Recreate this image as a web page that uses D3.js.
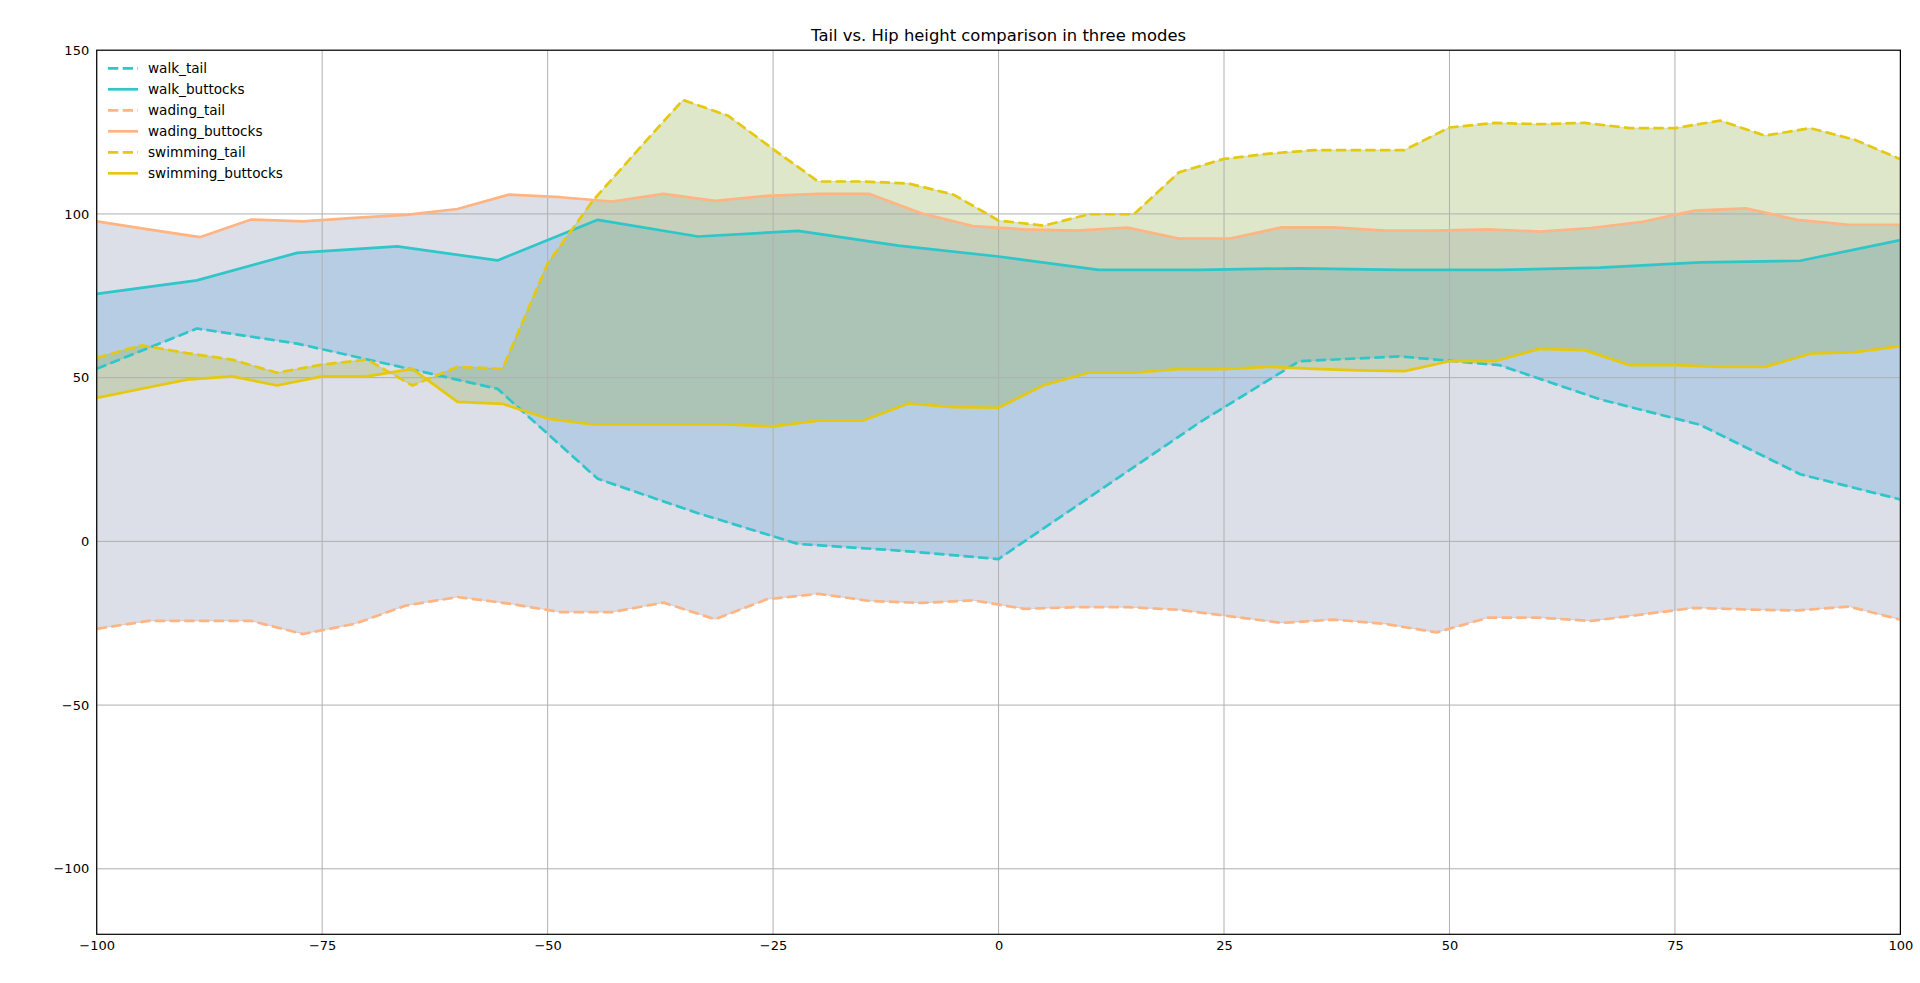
<!DOCTYPE html>
<html>
<head>
<meta charset="utf-8">
<script src="https://cdn.jsdelivr.net/npm/d3@7"></script>
<style>
  html, body { margin: 0; padding: 0; background: #ffffff; }
  svg { display: block; font-family: "DejaVu Sans", sans-serif; }
</style>
</head>
<body>
<svg id="chart" width="1920" height="983"></svg>
<script>
// ---------------- data ----------------
const title = "Tail vs. Hip height comparison in three modes";

const walkX = [-100, -88.89, -77.78, -66.67, -55.56, -44.44, -33.33, -22.22, -11.11, 0,
  11.11, 22.22, 33.33, 44.44, 55.56, 66.67, 77.78, 88.89, 100];
const walkTail = [52.7, 65.0, 60.4, 53.5, 46.6, 19.1, 8.6, -0.8, -2.8, -5.4,
  15.4, 36.2, 55.0, 56.5, 53.8, 43.4, 35.6, 20.5, 12.8];
const walkButtocks = [75.6, 79.7, 88.1, 90.1, 85.8, 98.2, 93.1, 94.8, 90.3, 87.0,
  82.9, 82.9, 83.4, 82.9, 82.9, 83.6, 85.2, 85.7, 92.0];

const wadingX = [-100, -94.29, -88.57, -82.86, -77.14, -71.43, -65.71, -60, -54.29, -48.57,
  -42.86, -37.14, -31.43, -25.71, -20, -14.29, -8.57, -2.86, 2.86, 8.57,
  14.29, 20, 25.71, 31.43, 37.14, 42.86, 48.57, 54.29, 60, 65.71,
  71.43, 77.14, 82.86, 88.57, 94.29, 100];
const wadingTail = [-26.7, -24.3, -24.3, -24.3, -28.3, -25.2, -19.6, -17.0, -19.0, -21.6,
  -21.6, -18.7, -23.8, -17.7, -16.0, -18.2, -18.8, -18.0, -20.6, -20.1,
  -20.1, -20.9, -22.9, -24.9, -23.9, -25.2, -27.8, -23.3, -23.3, -24.3,
  -22.3, -20.3, -20.8, -21.1, -19.9, -23.9];
const wadingButtocks = [97.7, 95.3, 92.9, 98.3, 97.7, 98.8, 99.7, 101.5, 105.9, 105.1,
  103.8, 106.1, 104.0, 105.5, 106.1, 106.1, 100.2, 96.3, 95.3, 94.9,
  95.8, 92.5, 92.5, 95.9, 95.9, 94.9, 94.9, 95.3, 94.6, 95.7,
  97.6, 101.0, 101.7, 98.2, 96.7, 96.7];

const swimX = [-100, -95, -90, -85, -80, -75, -70, -65, -60, -55, -50, -45, -40, -35, -30,
  -25, -20, -15, -10, -5, 0, 5, 10, 15, 20, 25, 30, 35, 40, 45,
  50, 55, 60, 65, 70, 75, 80, 85, 90, 95, 100];
const swimTail = [56.1, 59.9, 57.5, 55.5, 51.5, 54.0, 55.5, 47.6, 53.3, 52.7, 84.9, 104.0, 119.5, 134.8, 130.0,
  119.8, 109.9, 109.9, 109.3, 105.9, 98.0, 96.4, 99.9, 99.9, 112.7, 116.8, 118.4, 119.5, 119.5, 119.5,
  126.4, 127.8, 127.4, 127.8, 126.2, 126.2, 128.5, 123.9, 126.2, 122.6, 116.7];
const swimButtocks = [43.8, 46.6, 49.4, 50.4, 47.6, 50.4, 50.4, 52.7, 42.6, 42.0, 37.5, 35.7, 35.7, 35.7, 35.7,
  35.1, 36.9, 36.9, 42.1, 41.0, 40.8, 47.7, 51.5, 51.5, 52.6, 52.6, 53.3, 52.7, 52.2, 52.0,
  55.0, 55.0, 58.8, 58.4, 53.8, 53.8, 53.3, 53.3, 57.3, 57.8, 59.6];

const xTicks = [-100, -75, -50, -25, 0, 25, 50, 75, 100];
const yTicks = [-100, -50, 0, 50, 100, 150];

const seriesNames = ["walk_tail", "walk_buttocks", "wading_tail", "wading_buttocks", "swimming_tail", "swimming_buttocks"];
const lineColors = { walk: "#2ec6c9", wading: "#ffb482", swimming: "#e5c910" };
const fillColors = { walk: "#64a6d7", wading: "#8a94b2", swimming: "#94af4e" };

// ---------------- layout ----------------
const L = 96.7, R = 1900.4, T = 50.2, B = 934.3;
const svg = d3.select("#chart");
const x = d3.scaleLinear().domain([-100, 100]).range([L, R]);
const y = d3.scaleLinear().domain([-120, 150]).range([B, T]);

const groups = [
  { key: "wading", xs: wadingX, tail: wadingTail, butt: wadingButtocks },
  { key: "walk", xs: walkX, tail: walkTail, butt: walkButtocks },
  { key: "swimming", xs: swimX, tail: swimTail, butt: swimButtocks }
];

const clip = svg.append("defs").append("clipPath").attr("id", "plotclip")
  .append("rect").attr("x", L).attr("y", T).attr("width", R - L).attr("height", B - T);

const plot = svg.append("g").attr("clip-path", "url(#plotclip)");

// fills
groups.forEach(g => {
  const pts = g.xs.map((xv, i) => ({ x: xv, t: g.tail[i], b: g.butt[i] }));
  const area = d3.area().x(d => x(d.x)).y0(d => y(d.t)).y1(d => y(d.b));
  plot.append("path").attr("d", area(pts))
    .attr("fill", fillColors[g.key]).attr("fill-opacity", 0.3)
    .attr("stroke", fillColors[g.key]).attr("stroke-opacity", 0.3).attr("stroke-width", 1);
});

// grid
const gridG = plot.append("g");
xTicks.forEach(v => gridG.append("line").attr("x1", x(v)).attr("x2", x(v)).attr("y1", T).attr("y2", B)
  .attr("stroke", "#b0b0b0").attr("stroke-width", 1));
yTicks.forEach(v => gridG.append("line").attr("x1", L).attr("x2", R).attr("y1", y(v)).attr("y2", y(v))
  .attr("stroke", "#b0b0b0").attr("stroke-width", 1));

// lines
const lineDefs = [
  { name: "walk_tail", key: "walk", xs: walkX, ys: walkTail, dash: true },
  { name: "walk_buttocks", key: "walk", xs: walkX, ys: walkButtocks, dash: false },
  { name: "wading_tail", key: "wading", xs: wadingX, ys: wadingTail, dash: true },
  { name: "wading_buttocks", key: "wading", xs: wadingX, ys: wadingButtocks, dash: false },
  { name: "swimming_tail", key: "swimming", xs: swimX, ys: swimTail, dash: true },
  { name: "swimming_buttocks", key: "swimming", xs: swimX, ys: swimButtocks, dash: false }
];
const lineGen = d3.line().x(d => x(d[0])).y(d => y(d[1]));
lineDefs.forEach(s => {
  plot.append("path").attr("d", lineGen(s.xs.map((xv, i) => [xv, s.ys[i]])))
    .attr("fill", "none").attr("stroke", lineColors[s.key]).attr("stroke-width", 2.7)
    .attr("stroke-linejoin", "round")
    .attr("stroke-dasharray", s.dash ? "10.3,4.4" : null);
});

// frame
svg.append("rect").attr("x", L).attr("y", T).attr("width", R - L).attr("height", B - T)
  .attr("fill", "none").attr("stroke", "#000").attr("stroke-width", 1.2);

// axes
const fmt = v => (v < 0 ? "\u2212" + Math.abs(v) : String(v));
const xAxis = svg.append("g").attr("transform", `translate(0,${B})`)
  .call(d3.axisBottom(x).tickValues(xTicks).tickSize(0).tickPadding(6).tickFormat(fmt));
const yAxis = svg.append("g").attr("transform", `translate(${L},0)`)
  .call(d3.axisLeft(y).tickValues(yTicks).tickSize(0).tickPadding(7.5).tickFormat(fmt));
[xAxis, yAxis].forEach(a => {
  a.select(".domain").remove();
  a.selectAll("text").attr("font-family", "DejaVu Sans").attr("font-size", 13).attr("fill", "#000");
});

// title
svg.append("text").attr("x", (L + R) / 2).attr("y", 41).attr("text-anchor", "middle")
  .attr("font-size", 16.4).attr("fill", "#000").text(title);

// legend
const leg = svg.append("g");
lineDefs.forEach((s, i) => {
  const cy = 68.3 + i * 21;
  leg.append("line").attr("x1", 108).attr("x2", 138).attr("y1", cy).attr("y2", cy)
    .attr("stroke", lineColors[s.key]).attr("stroke-width", 2.7)
    .attr("stroke-dasharray", s.dash ? "10.3,4.4" : null);
  leg.append("text").attr("x", 148).attr("y", cy).attr("dy", "0.35em")
    .attr("font-size", 13.6).attr("fill", "#000").text(seriesNames[i]);
});
</script>
</body>
</html>
